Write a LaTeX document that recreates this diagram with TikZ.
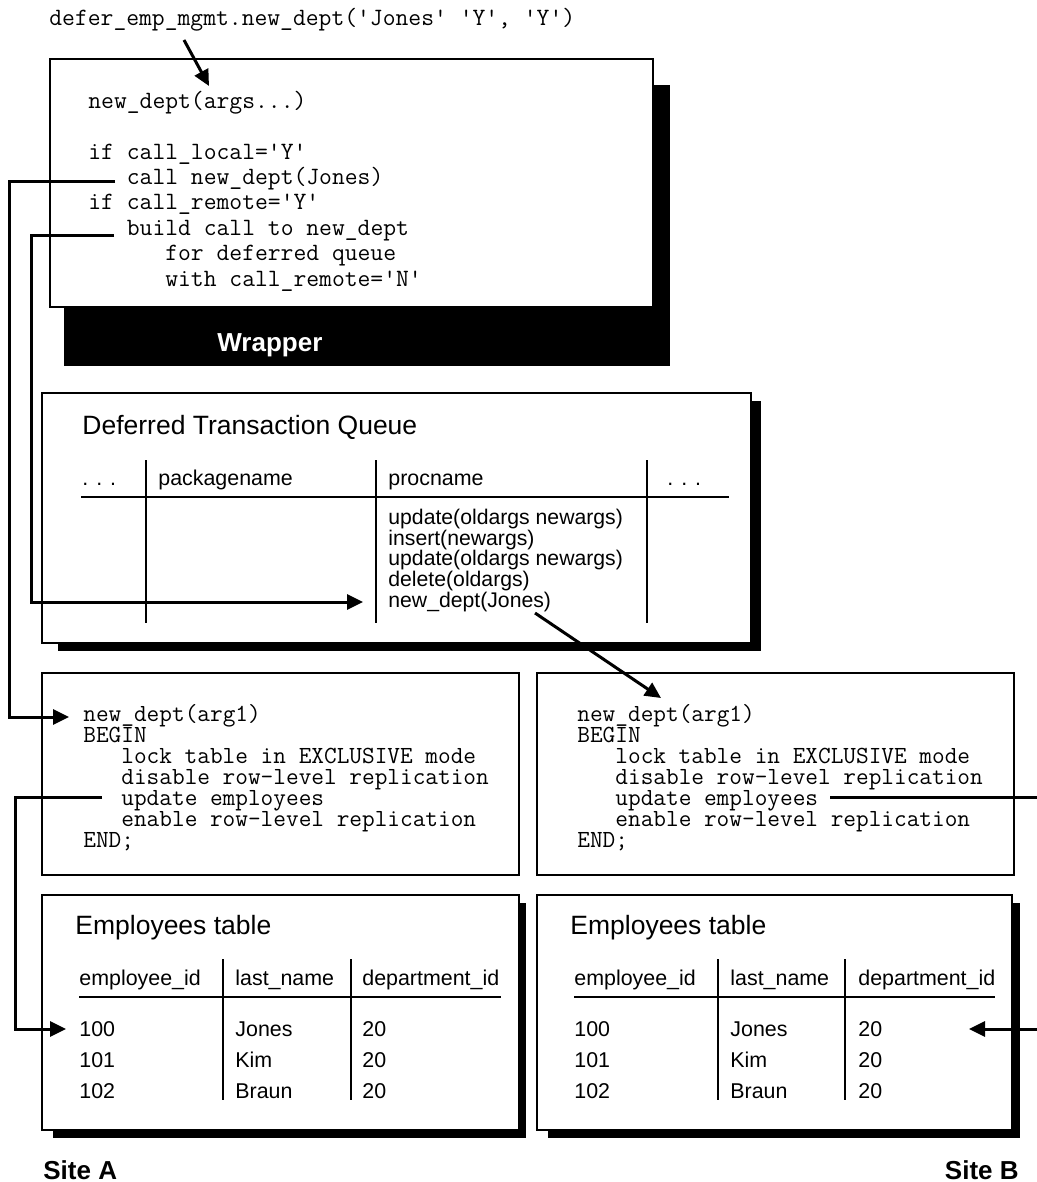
\documentclass[tikz,border=0pt]{standalone}
\usepackage{fontspec}
\setmainfont{Liberation Sans}
\usetikzlibrary{arrows.meta}
\newcommand{\wrapfont}{\ttfamily\fontsize{12.45}{12.7}\selectfont\lineskiplimit=-20pt\relax}
\newcommand{\sitefont}{\ttfamily\fontsize{12.3}{10.5}\selectfont\lineskiplimit=-20pt\relax}

\begin{document}
\begin{tikzpicture}[x=0.5pt, y=-0.5pt,
  panel/.style={draw, line width=1pt, fill=white},
  tablerule/.style={line width=0.6pt},
  conn/.style={line width=1.5pt, -{Triangle[length=8pt,width=7.5pt]}},
  codetext/.style={inner sep=0pt, anchor=base west, align=left, font=\wrapfont},
  sitecode/.style={codetext, font=\sitefont},
  boxtitle/.style={inner sep=0pt, anchor=base west, font=\fontsize{13.25}{15}\selectfont},
  celltext/.style={inner sep=0pt, anchor=base west, font=\fontsize{10.7}{12}\selectfont},
  sitelabel/.style={inner sep=0pt, anchor=base west, font=\bfseries\fontsize{13}{15}\selectfont}]
\useasboundingbox (0,0) rectangle (1037,1182);

% wrapper (multi-line nodes sit on their last line)
\fill (64,85) rectangle (670,366);
\draw[panel] (50,59) rectangle (653,307);
\node (wproc) [codetext] at (88,109) {new\_dept(args...)};
\node (wbody) [codetext] at (88,286) {if call\_local='Y'\\
\phantom{xxx}call new\_dept(Jones)\\
if call\_remote='Y'\\
\phantom{xxx}build call to new\_dept\\
\phantom{xxxxxx}for deferred queue\\
\phantom{xxxxxx}with call\_remote='N'};
\node (wlabel) [sitelabel, text=white] at (217,351) {Wrapper};

% call into the wrapper
\node (call) [codetext] at (49,26) {defer\_emp\_mgmt.new\_dept('Jones' 'Y', 'Y')};
\coordinate (a0) at (184,40);
\coordinate (a1) at (209,86);
\draw[conn] (a0) -- (a1);

% deferred transaction queue
\fill (58,401) rectangle (761,651);
\draw[panel] (42,393) rectangle (751,643);
\node (qtitle) [boxtitle] at (82,434.5) {Deferred Transaction Queue};
\node (qh1) [celltext] at (82,485.5) {. . .};
\node (qh2) [celltext] at (158,485.5) {packagename};
\node (qh3) [celltext] at (388,485.5) {procname};
\node (qh4) [celltext] at (667,485.5) {. . .};
\draw[tablerule] (81,497) -- (729,497);
\draw[tablerule] (146,460) -- (146,623);
\draw[tablerule] (376,460) -- (376,623);
\draw[tablerule] (647,460) -- (647,623);
\node (qprocs) [celltext, align=left, font=\fontsize{10.6}{10.4}\selectfont] at (388,607.5) {update(oldargs newargs)\\
insert(newargs)\\
update(oldargs newargs)\\
delete(oldargs)\\
new\_dept(Jones)};

% procedure at site A and site B
\draw[panel] (42,673) rectangle (519,875);
\node (acode) [sitecode] at (83,847) {new\_dept(arg1)\\
BEGIN\\
\phantom{xxx}lock table in EXCLUSIVE mode\\
\phantom{xxx}disable row-level replication\\
\phantom{xxx}update employees\\
\phantom{xxx}enable row-level replication\\
END;};
\draw[panel] (537,673) rectangle (1014,875);
\node (bcode) [sitecode] at (577,847) {new\_dept(arg1)\\
BEGIN\\
\phantom{xxx}lock table in EXCLUSIVE mode\\
\phantom{xxx}disable row-level replication\\
\phantom{xxx}update employees\\
\phantom{xxx}enable row-level replication\\
END;};

% employees table, site A
\fill (53,903) rectangle (526,1138);
\draw[panel] (42,895) rectangle (519,1130);
\node (atitle) [boxtitle] at (75,934.5) {Employees table};
\node (ah1) [celltext] at (79,985.5) {employee\_id};
\node (ah2) [celltext] at (235,985.5) {last\_name};
\node (ah3) [celltext] at (362,985.5) {department\_id};
\draw[tablerule] (79,997) -- (501,997);
\draw[tablerule] (223,959) -- (223,1100);
\draw[tablerule] (351,959) -- (351,1100);
\node (ar1) [celltext] at (79,1036.5) {100};
\node (ar2) [celltext] at (79,1067.5) {101};
\node (ar3) [celltext] at (79,1098.5) {102};
\node (an1) [celltext] at (235,1036.5) {Jones};
\node (an2) [celltext] at (235,1067.5) {Kim};
\node (an3) [celltext] at (235,1098.5) {Braun};
\node (ad1) [celltext] at (362,1036.5) {20};
\node (ad2) [celltext] at (362,1067.5) {20};
\node (ad3) [celltext] at (362,1098.5) {20};

% employees table, site B
\fill (548,903) rectangle (1020,1138);
\draw[panel] (537,895) rectangle (1012,1130);
\node (btitle) [boxtitle] at (570,934.5) {Employees table};
\node (bh1) [celltext] at (574,985.5) {employee\_id};
\node (bh2) [celltext] at (730,985.5) {last\_name};
\node (bh3) [celltext] at (858,985.5) {department\_id};
\draw[tablerule] (574,997) -- (995,997);
\draw[tablerule] (718,959) -- (718,1100);
\draw[tablerule] (845,959) -- (845,1100);
\node (br1) [celltext] at (574,1036.5) {100};
\node (br2) [celltext] at (574,1067.5) {101};
\node (br3) [celltext] at (574,1098.5) {102};
\node (bn1) [celltext] at (730,1036.5) {Jones};
\node (bn2) [celltext] at (730,1067.5) {Kim};
\node (bn3) [celltext] at (730,1098.5) {Braun};
\node (bd1) [celltext] at (858,1036.5) {20};
\node (bd2) [celltext] at (858,1067.5) {20};
\node (bd3) [celltext] at (858,1098.5) {20};

\node (sitea) [sitelabel] at (43,1179) {Site A};
\node (siteb) [sitelabel, anchor=base east] at (1019,1179) {Site B};

% connectors
\coordinate (l1s) at (115,182);
\coordinate (l1e) at (69,717);
\draw[conn] (l1s) -- ++(-105.5,0) |- (l1e);
\coordinate (l2s) at (114,236);
\coordinate (l2e) at (363,602);
\draw[conn] (l2s) -- ++(-83,0) |- (l2e);
\coordinate (q0) at (535,613);
\coordinate (q1) at (661,698);
\draw[conn] (q0) -- (q1);
\coordinate (l3s) at (102,797);
\coordinate (l3e) at (66,1029);
\draw[conn] (l3s) -- ++(-87,0) |- (l3e);
\coordinate (l4s) at (830,797);
\coordinate (l4e) at (969,1029);
\draw[conn] (l4s) -- ++(212,0) |- (l4e);
\end{tikzpicture}
\end{document}
